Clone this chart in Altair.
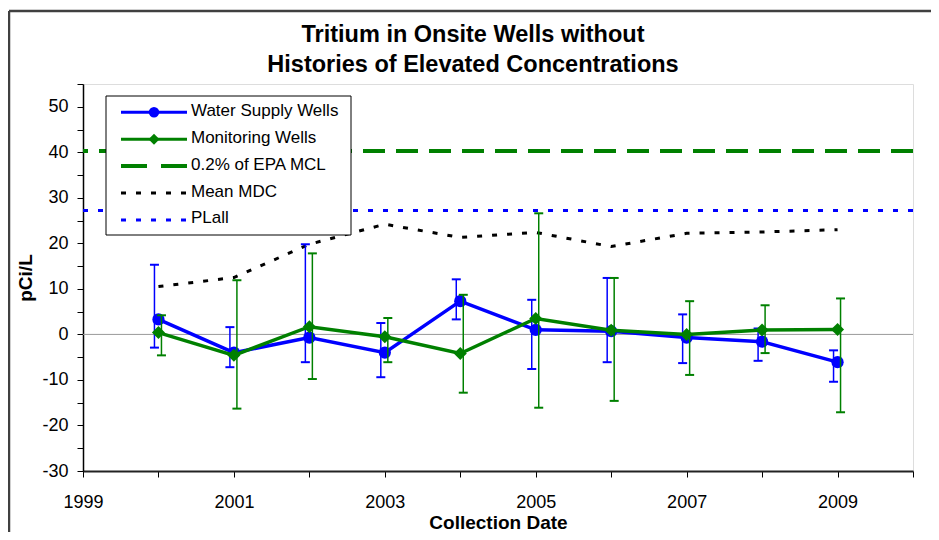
import altair as alt
import pandas as pd

# ---------------- data ----------------
years = [2000, 2001, 2002, 2003, 2004, 2005, 2006, 2007, 2008, 2009]

ws_value = [3.3, -4.0, -0.7, -4.0, 7.3, 1.0, 0.7, -0.7, -1.6, -6.1]
ws_low = [-2.9, -7.2, -6.1, -9.4, 3.3, -7.6, -6.1, -6.3, -5.8, -10.4]
ws_high = [15.3, 1.6, 19.8, 2.5, 12.1, 7.6, 12.4, 4.4, 1.3, -3.5]

mw_value = [0.4, -4.6, 1.7, -0.5, -4.2, 3.5, 0.9, 0.0, 0.95, 1.1]
mw_low = [-4.6, -16.3, -9.8, -6.1, -12.8, -16.1, -14.6, -8.9, -4.1, -17.1]
mw_high = [4.2, 11.9, 17.8, 3.6, 8.7, 26.6, 12.4, 7.3, 6.4, 7.9]

mean_mdc = [10.5, 12.5, 19.8, 24.2, 21.3, 22.4, 19.3, 22.2, 22.5, 23.0]

epa_mcl_level = 40.3
plall_level = 27.2

x_ticks = list(range(1999, 2011))
y_ticks = list(range(-30, 56, 5))

title_lines = ["Tritium in Onsite Wells without", "Histories of Elevated Concentrations"]
legend_labels = ["Water Supply Wells", "Monitoring Wells", "0.2% of EPA MCL", "Mean MDC", "PLall"]

# ---------------- styling ----------------
BLUE = "#0000FF"
GREEN = "#008000"
FONT = "Liberation Sans"
W, H = 830, 387
PAD_L, PAD_T, PAD_R, PAD_B = 75, 76, 18, 61

df_ws = pd.DataFrame({"year": years, "v": ws_value, "lo": ws_low, "hi": ws_high})
df_mw = pd.DataFrame({"year": years, "v": mw_value, "lo": mw_low, "hi": mw_high})
df_mdc = pd.DataFrame({"year": years, "v": mean_mdc})
one = pd.DataFrame({"k": [0]})

xs = alt.Scale(domain=[1999, 2010], nice=False, zero=False)
ys = alt.Scale(domain=[-30, 55], nice=False, zero=False)

x_axis = alt.Axis(
    values=x_ticks,
    labelExpr="datum.value % 2 == 1 ? '' + datum.value : ''",
    labelFlush=False, labelOverlap=False,
    grid=False, tickSize=6, tickColor="#000", domainColor="#222", domainWidth=2,
    labelFont=FONT, labelFontSize=18, labelColor="#000", labelPadding=16,
    title="Collection Date", titleFont=FONT, titleFontSize=19, titleFontWeight="bold",
    titleColor="#000", titleBaseline="alphabetic", titleY=57, titleX=W / 2,
)
y_axis = alt.Axis(
    values=y_ticks,
    labelExpr="datum.value % 10 == 0 ? '' + datum.value : ''",
    labelFlush=False, labelOverlap=False,
    grid=False, tickSize=6, tickColor="#000", domainColor="#000", domainWidth=1.5,
    labelFont=FONT, labelFontSize=18, labelColor="#000", labelPadding=9,
    title="pCi/L", titleFont=FONT, titleFontSize=19, titleFontWeight="bold",
    titleColor="#000", titleAngle=270, titleBaseline="middle", titleAlign="center",
    titleX=-58, titleY=H / 2,
)


def X(field):
    return alt.X(field, type="quantitative", scale=xs, axis=x_axis)


def Y(field):
    return alt.Y(field, type="quantitative", scale=ys, axis=y_axis)


# ---------------- plot layers ----------------
zero_line = alt.Chart(one).mark_rule(color="#999999", strokeWidth=1).encode(
    y=alt.Y(datum=0, type="quantitative", scale=ys, axis=y_axis))

mcl_line = alt.Chart(one).mark_rule(color=GREEN, strokeWidth=4, strokeDash=[22, 11]).encode(
    y=alt.Y(datum=epa_mcl_level, type="quantitative", scale=ys, axis=y_axis))

plall_line = alt.Chart(one).mark_rule(color=BLUE, strokeWidth=3, strokeDash=[5, 10]).encode(
    y=alt.Y(datum=plall_level, type="quantitative", scale=ys, axis=y_axis))

mdc_line = alt.Chart(df_mdc).mark_line(color="#000", strokeWidth=3, strokeDash=[5, 10]).encode(
    x=X("year"), y=Y("v"))


def series(df, color, shape, size, bar_off):
    bars = alt.Chart(df).mark_rule(color=color, strokeWidth=1.5, xOffset=bar_off).encode(
        x=X("year"), y=Y("lo"), y2="hi")
    cap_lo = alt.Chart(df).mark_tick(color=color, orient="horizontal", size=9, thickness=2,
                                     xOffset=bar_off, opacity=1).encode(x=X("year"), y=Y("lo"))
    cap_hi = alt.Chart(df).mark_tick(color=color, orient="horizontal", size=9, thickness=2,
                                     xOffset=bar_off, opacity=1).encode(x=X("year"), y=Y("hi"))
    line = alt.Chart(df).mark_line(color=color, strokeWidth=3.5).encode(x=X("year"), y=Y("v"))
    pts = alt.Chart(df).mark_point(shape=shape, filled=True, size=size, color=color,
                                   opacity=1).encode(x=X("year"), y=Y("v"))
    return [bars, cap_lo, cap_hi, line, pts]


ws_layers = series(df_ws, BLUE, "circle", 150, -4)
mw_layers = series(df_mw, GREEN, "diamond", 170, 3)

# ---------------- legend (drawn box) ----------------
LX0, LX1, LY0, LY1 = 23, 268, 12, 151
SYM_X0, SYM_X1, SYM_MID, TXT_X = 38, 104, 71, 108
ROW0, ROW_STEP = 28.3, 26.9


def row_y(i):
    return ROW0 + i * ROW_STEP


legend_box = alt.Chart(one).mark_rect(fill="white", stroke="#000", strokeWidth=1).encode(
    x=alt.value(LX0), x2=alt.value(LX1), y=alt.value(LY0), y2=alt.value(LY1))

legend_styles = [
    dict(color=BLUE, strokeWidth=3),
    dict(color=GREEN, strokeWidth=3),
    dict(color=GREEN, strokeWidth=4, strokeDash=[26, 14]),
    dict(color="#000", strokeWidth=3, strokeDash=[5, 10]),
    dict(color=BLUE, strokeWidth=3, strokeDash=[5, 10]),
]
legend_layers = [legend_box]
for i, (lab, st) in enumerate(zip(legend_labels, legend_styles)):
    yy = row_y(i)
    legend_layers.append(alt.Chart(one).mark_rule(**st).encode(
        x=alt.value(SYM_X0), x2=alt.value(SYM_X1), y=alt.value(yy)))
    legend_layers.append(alt.Chart(one).mark_text(
        font=FONT, fontSize=17, align="left", baseline="middle", color="#000").encode(
        x=alt.value(TXT_X), y=alt.value(yy - 1.5), text=alt.value(lab)))
legend_layers.append(alt.Chart(one).mark_point(shape="circle", filled=True, size=110,
                                               color=BLUE, opacity=1).encode(
    x=alt.value(SYM_MID), y=alt.value(row_y(0))))
legend_layers.append(alt.Chart(one).mark_point(shape="diamond", filled=True, size=120,
                                               color=GREEN, opacity=1).encode(
    x=alt.value(SYM_MID), y=alt.value(row_y(1))))

# ---------------- chart title (two lines) ----------------
TITLE_X = W / 2 - 25
title_layers = [
    alt.Chart(one).mark_text(font=FONT, fontSize=23.5, fontWeight="bold", color="#000",
                             align="center", baseline="alphabetic").encode(
        x=alt.value(TITLE_X), y=alt.value(-42 + 30.4 * i), text=alt.value(t))
    for i, t in enumerate(title_lines)
]

# outer chart frame (top and left edges visible in the reference)
FRAME_X, FRAME_Y = -(PAD_L - 1), -(PAD_T - 3)
frame_top = alt.Chart(one).mark_rule(color="#404040", strokeWidth=2.5).encode(
    x=alt.value(FRAME_X), x2=alt.value(W + PAD_R + 5), y=alt.value(FRAME_Y))
frame_left = alt.Chart(one).mark_rule(color="#404040", strokeWidth=2.5).encode(
    x=alt.value(FRAME_X), y=alt.value(FRAME_Y), y2=alt.value(H + PAD_B + 5))

chart = alt.layer(
    zero_line, mcl_line, plall_line, mdc_line,
    *ws_layers, *mw_layers, *legend_layers, *title_layers, frame_top, frame_left,
).properties(
    width=W, height=H,
    autosize=alt.AutoSizeParams(type="none"),
    padding={"left": PAD_L, "top": PAD_T, "right": PAD_R, "bottom": PAD_B},
).configure_view(stroke="#000", strokeWidth=1.5).configure(background="white")

chart.save("out.html", embed_options={"renderer": "svg", "actions": False})
